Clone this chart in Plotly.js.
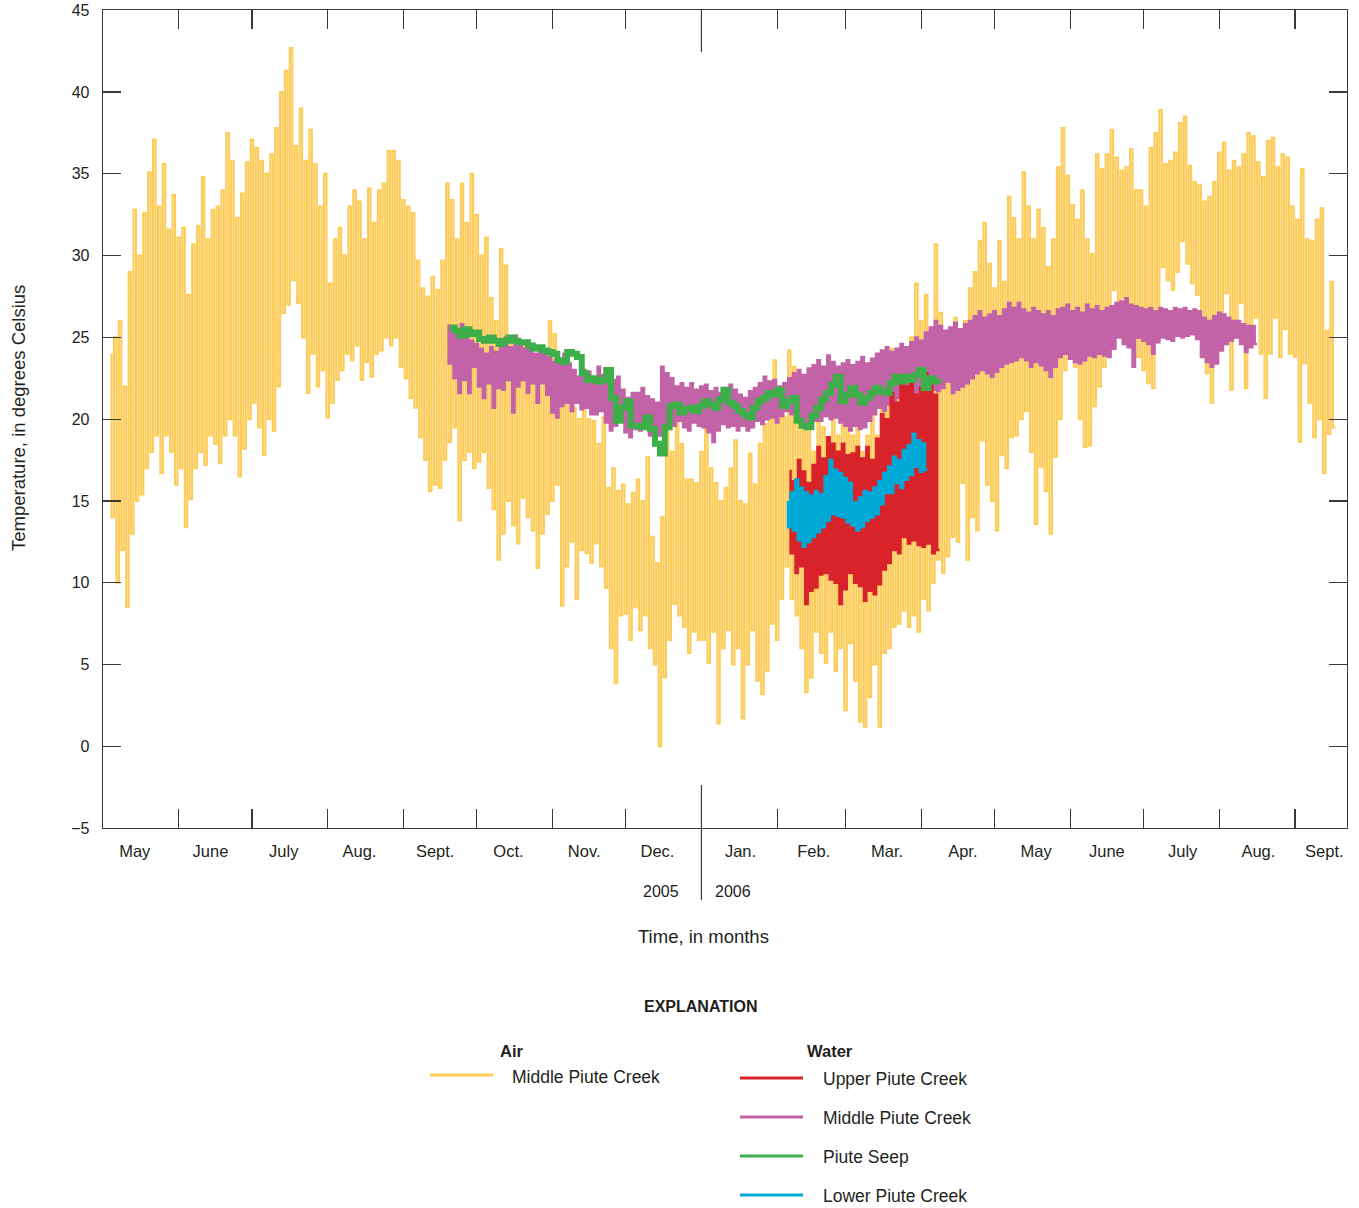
<!DOCTYPE html>
<html>
<head>
<meta charset="utf-8">
<script src="https://cdn.plot.ly/plotly-3.0.1.min.js"></script>
<style>
html,body{margin:0;padding:0;background:#fff;}
#chart{width:1359px;height:1208px;}
</style>
</head>
<body>
<div id="chart"></div>
<script>
// ---------------- DATA ----------------
// Series are sampled in 2-day periods: each period has a high and a low.
// Start days are counted from 2005-05-01.
const seriesStartDate = '2005-05-01';

// Air temperature, Middle Piute Creek (starts 2005-05-04)
const airStartDay = 3;
const airHigh = [
 24,25,26,22,29,32.8,30,32.6,35.1,37.1,
 33,35.6,31.6,33.7,31.1,31.7,27.6,30.7,31.8,34.8,
 31,32.8,33,34,37.5,35.8,32.3,33.8,35.7,37.1,
 36.6,35.8,35,36.2,37.8,40,41.3,42.7,36.7,39,
 35.8,37.7,35.6,33,35,28.3,31,31.7,30,33,
 34,33.3,31,34.1,32,34,34.4,36.4,36.4,35.8,
 33.4,33,32.6,29.7,28,27.5,28.7,27.9,29.7,34.4,
 33.4,31,34.4,32,35,32.5,30,31.1,27.4,26,
 30.4,29.4,24.6,24,23,24.5,22.5,23.5,22,23,
 26,25.2,22,22,21,20.7,20,21,20,19.9,
 18.5,20.1,15.8,17,15.6,16,14.8,15.5,16.3,15,
 17.7,12.8,11.2,14,19.7,18,19.9,18.5,16.3,16.3,
 16.1,18,19.9,17,16.1,15,15.8,17,18.7,15,
 14.8,17.9,16,18.5,19.7,21,23.6,21,20.1,24.2,
 23.2,20,19.5,19.5,18,20.7,19.5,18.5,20.7,19,
 20,21.1,19,19.9,18,19,20.3,19,20.7,21.5,
 24.3,22,22.4,24,25,28.3,26,27.6,25,30.7,
 26.5,25,24,26.2,25,26,28,29,30.9,32,
 29.5,28,30.9,28.4,33.6,32.3,31,35.1,33,31,
 32.8,31.7,29.3,31,35.4,37.8,34.9,33.1,32.2,34,
 31,30.1,36.2,35.3,36.2,37.7,36,35.2,35.4,36.5,
 34,34,33,36.6,37.5,38.9,35.6,35.8,36.3,38.1,
 38.5,35.5,34.5,34.3,33.3,33.6,34.5,36.3,36.9,35.2,
 35.8,35.4,36.2,37.5,37.3,35.7,34.8,37,37.2,35.4,
 36.2,36,33,32.2,35.3,31,30.9,32.2,32.9,25.4,28.4
];
const airLow = [
 14,10,12,8.5,13,15,15.4,17,18,19,
 16.7,19,18,16,17,13.4,15.1,17,18,17.2,
 19,18.5,17.3,19,20,19,16.5,18.2,20,21,
 19.5,17.8,20,19.3,22,26.5,27,28.5,27.1,25,
 21.6,24,22,23,20.1,21,22.4,23,24,23.6,
 24.5,22.4,23.5,22.6,24,24.2,25,24.5,25,23.2,
 22.5,21.3,20.7,18.9,17.5,15.6,16,15.8,17.5,18.6,
 19.5,13.8,17.5,18,17,17.4,18,15.8,14.5,11.4,
 13,15,13.5,12.4,15.2,14,13.2,10.9,13,14.2,
 15,16,8.6,11,12.5,9,12,11.8,11.2,12.4,
 11,9.7,6,3.85,8,8.1,6.5,8.5,7.1,8,
 6,5,0,4.2,6.5,8.7,8,7.3,5.7,7,
 6.5,6.5,5.1,7,1.4,6,7.1,5,6,1.7,
 5,7.1,4,3.2,4.6,7.5,6.5,9,11,9,
 8,6,3.3,4.2,7,5.7,5.1,7,4.6,6,
 2.2,6.3,4,1.5,1.2,3,5,1.2,5.7,6,
 7.3,7.5,8.3,7.3,8,7,9,8.3,10,11.4,
 10.6,11.6,12.8,12.5,16.1,11.4,14,13.2,18.7,16,
 15,13.2,17.8,17,18.9,19,20,20.5,18,13.6,
 17.1,15.6,13,17.7,20,23,24.4,23.2,20,18.3,
 18.4,20.8,22,23.2,25,27.9,27,27.4,27.1,25,
 23.8,23,22.2,21.9,26,29.3,28.5,27.9,29,30.9,
 29.5,28.3,27.6,25,22.8,21,24,25.8,27.7,21.8,
 25,27.1,21.9,25,26.2,24,21.3,24,26.2,23.8,
 25.5,24,23.8,18.6,23.4,21,18.9,20,16.7,19.1,19.5
];

// Water temperature, Middle Piute Creek (starts 2005-09-19)
const midStartDay = 141;
const midHigh = [
 25.8,25.5,25.2,25.8,25,24.8,24.6,24.3,24,24.4,
 24.1,24.6,25,24.4,25.1,24.7,24.3,24.6,24,24.4,
 24.2,23.8,23.5,23.6,24,23.4,23,22.6,23,22.9,
 22.5,23.2,22.7,22.4,22.4,22.6,21.8,21.3,21.6,21.6,
 21.9,21.4,21.2,21,23.2,22.8,22.5,22,22.2,21.9,
 22.2,21.8,22,22.1,21.7,21.9,21.6,21.9,22.1,21.8,
 21.5,21.3,21.7,21.9,22.2,22.6,22.3,22.4,22,22.2,
 22.5,22.8,23,22.7,23.1,23.3,23.6,23.2,23.9,23.5,
 23.2,23.4,23.6,23.3,23.5,23.8,23.4,23.7,24,24.2,
 24.4,24.1,24.3,24.6,24.4,24.7,25,24.8,25.3,25.6,
 26,25.7,25.4,25.6,25.9,25.5,25.8,26,26.3,26.6,
 26.2,26.4,26.6,26.3,26.7,27.1,26.8,27.1,26.7,26.5,
 26.8,26.6,26.4,26.6,26.3,26.7,26.8,27,26.6,26.8,
 26.5,27,26.7,26.9,26.6,26.8,26.9,27.1,27.2,27.4,
 27,26.9,26.8,26.7,26.8,26.6,26.8,26.7,26.6,26.8,
 26.7,26.8,26.6,26.7,26.6,26.2,26,26.3,26.5,26.4,
 26.2,26,26,25.8,25.7,25.7
];
const midLow = [
 23.4,22.5,21.6,22.4,21.6,23.2,22,21.3,22.2,20.7,
 21.9,21.8,22.4,20.4,22,22.4,21.6,22.2,21,22.2,
 21.5,20.4,20.1,20.8,21,20.5,21,20.6,20.7,20.3,
 20.3,20.5,19.8,19.3,19.6,19.9,19.2,18.9,19.4,19.3,
 19.5,19,18.7,19,19.3,19.8,19.6,19.9,19.5,19.3,
 19.8,19.6,19.5,19.2,18.6,19.3,19.7,19.5,19.6,19.3,
 19.6,19.3,19.5,19.9,19.7,20,20.1,19.8,20.2,20.5,
 20.3,20,20.1,19.8,20.2,19.9,19.9,20.2,20,20.1,
 19.8,19.6,19.3,19.6,19.4,19.5,19.9,20.3,20.7,20.5,
 20.9,21,21.3,21.1,21.4,21.6,21.3,21.5,21.6,21.8,
 21.7,21.9,22.3,21.6,21.8,22,22.2,22.5,22.8,23,
 22.8,22.6,22.9,23.2,23.4,23.5,23.6,23.8,23.6,23.2,
 23.5,23.3,23,22.6,23.2,23.8,24,23.7,23.5,23.4,
 23.6,23.9,23.8,24,23.9,23.8,24.3,25,24.6,24.4,
 23.2,25,24.8,24.6,24,24.7,25,24.9,24.8,25.1,
 25,25.1,25.2,24.9,23.8,23.5,23.2,23.4,24.2,24.6,
 24.8,25,24.6,24.1,24.4,24.6
];

// Water temperature, Piute Seep (starts 2005-09-19), one value per 2 days
const seepStartDay = 141;
const seepTemp = [
 25.6,25.4,25.1,25.5,25.2,25.3,24.9,24.8,25,24.8,
 24.6,24.8,25,24.8,24.7,24.7,24.5,24.3,24.4,24.2,
 24.1,24,23.6,23.5,24.1,24,23.8,22.8,22.4,22.5,
 22.3,22.4,23,21.3,19.9,20.7,21.1,19.6,19.6,19.5,
 20.1,19.4,18.5,17.9,19.5,20.8,20.9,20.4,20.6,20.7,
 20.5,20.8,21.1,20.9,20.7,21.2,21.8,21,20.8,20.5,
 20.3,20.1,20.7,21.1,21.3,21.6,21.5,21.8,20.8,21.1,
 21.3,19.9,19.6,19.5,20.2,20.7,21.2,21.6,22.1,22.6,
 21.1,21.5,21.9,21.5,21,21.3,21.6,21.9,21.7,21.6,
 22.2,22.6,22.3,22.6,22.4,22.7,23,21.9,22.5,22.3,
 22.2
];

// Water temperature, Upper Piute Creek (starts 2006-02-06)
const upperStartDay = 281;
const upperHigh = [
 16.9,16.2,17.5,16.8,16.1,17.2,18.3,17.6,18.9,18.5,
 18,18.5,17.8,17.9,18.3,17.6,18.3,17.5,18.8,20.3,
 20,21.6,21,22.4,22,22.4,21.5,21.9,22.8,22.2,21.5
];
const upperLow = [
 11.8,10.6,11,8.7,9.5,9.7,10.5,10.6,10.2,10,
 8.7,9.6,10.6,10,9.8,8.9,9.5,9.3,9.9,10.8,
 11.2,12,11.8,12.8,12.4,12.6,12.3,12.2,12.4,11.8,12
];

// Water temperature, Lower Piute Creek (starts 2006-02-05)
const lowerStartDay = 280;
const lowerHigh = [
 15,15.5,16.3,15.8,15.5,15.3,15.6,15.4,16.5,17.5,
 16.9,16.7,16.4,16.1,14.9,15.2,15.6,15.5,15.8,16.2,
 16.7,17.1,17.7,17.5,18.1,18.4,19.1,18.7,18.5
];
const lowerLow = [
 13.4,13.2,12.6,12.2,12.5,12.8,13.1,13.4,13.8,14.2,
 14.1,14,13.7,13.5,13.2,13.4,13.8,14,14.2,14.8,
 15.5,15.5,16.1,15.8,16.3,16.6,17.1,16.8,16.9
];

// Axis / label texts
const monthStarts = ['2005-06-01','2005-07-01','2005-08-01','2005-09-01','2005-10-01','2005-11-01','2005-12-01',
 '2006-01-01','2006-02-01','2006-03-01','2006-04-01','2006-05-01','2006-06-01','2006-07-01','2006-08-01','2006-09-01'];
const monthLabelDates = ['2005-05-14','2005-06-14','2005-07-14','2005-08-14','2005-09-14','2005-10-14','2005-11-14','2005-12-14',
 '2006-01-17','2006-02-16','2006-03-18','2006-04-18','2006-05-18','2006-06-16','2006-07-17','2006-08-17','2006-09-13'];
const monthLabels = ['May','June','July','Aug.','Sept.','Oct.','Nov.','Dec.','Jan.','Feb.','Mar.','Apr.','May','June','July','Aug.','Sept.'];
const yTicks = [-5,0,5,10,15,20,25,30,35,40,45];
const yearLabels = ['2005','2006'];
const legendAir = ['Middle Piute Creek'];
const legendWater = ['Upper Piute Creek','Middle Piute Creek','Piute Seep','Lower Piute Creek'];

// ---------------- STYLE ----------------
const FONT = '"Liberation Sans",Arial,sans-serif';
const TXT = '#231f20';
const AXC = '#3a3a3a';
const C_AIR = '#FDCB57', C_MID = '#C262A7', C_UP = '#D8232A', C_LOW = '#00A8D6', C_SEEP = '#3DAE49';

const DAY = 864e5;
const T0 = Date.parse(seriesStartDate + 'T00:00:00Z');

function zig(startDay, hi, lo) {
  const x = [], y = [];
  for (let i = 0; i < hi.length; i++) {
    x.push(T0 + (startDay + 2 * i + 0.5) * DAY); y.push(hi[i]);
    x.push(T0 + (startDay + 2 * i + 1.5) * DAY); y.push(lo[i]);
  }
  return {x, y};
}
function line(startDay, vals) {
  return {x: vals.map((v, i) => T0 + (startDay + 2 * i + 1) * DAY), y: vals};
}

const air = zig(airStartDay, airHigh, airLow);
const mid = zig(midStartDay, midHigh, midLow);
const upper = zig(upperStartDay, upperHigh, upperLow);
const lower = zig(lowerStartDay, lowerHigh, lowerLow);
const seep = line(seepStartDay, seepTemp);

const common = {type: 'scatter', mode: 'lines', hoverinfo: 'skip', showlegend: false};
const data = [
  Object.assign({}, common, {x: air.x, y: air.y, line: {color: C_AIR, width: 2.1, shape: 'vh'}}),
  Object.assign({}, common, {x: mid.x, y: mid.y, line: {color: C_MID, width: 2.5, shape: 'vh'}}),
  Object.assign({}, common, {x: upper.x, y: upper.y, line: {color: C_UP, width: 2.5, shape: 'vh'}}),
  Object.assign({}, common, {x: lower.x, y: lower.y, line: {color: C_LOW, width: 2.8, shape: 'vh'}}),
  Object.assign({}, common, {x: seep.x, y: seep.y, line: {color: C_SEEP, width: 6, shape: 'hv'}}),
  Object.assign({}, common, {x: [monthLabelDates[0]], y: [null], xaxis: 'x2', yaxis: 'y'})
];

// plot area in pixels
const L = 103, R = 1347, TOP = 10, BOT = 828;
const px = X => (X - L) / (R - L);
const py = Y => (BOT - Y) / (BOT - TOP);

const xRange = ['2005-05-01', '2006-09-22 07:00'];

const annotations = [];
function ann(text, X, Y, size, opts) {
  annotations.push(Object.assign({text, x: px(X), y: py(Y), xref: 'paper', yref: 'paper',
    showarrow: false, xanchor: 'center', yanchor: 'middle', borderpad: 0,
    font: {family: FONT, size: size, color: TXT}}, opts || {}));
}
ann(yearLabels[0], 661, 892, 16);
ann(yearLabels[1], 733, 892, 16);
ann('Time, in months', 703, 936, 18.5);
ann('Temperature, in degrees Celsius', 18, 418, 18.5, {textangle: -90});
ann('<b>EXPLANATION</b>', 700, 1006, 16);
ann('<b>Air</b>', 499, 1051, 16.5, {xanchor: 'left'});
ann('<b>Water</b>', 806, 1051, 16.5, {xanchor: 'left'});
ann(legendAir[0], 511, 1077, 17.5, {xanchor: 'left'});
const waterCols = [C_UP, C_MID, C_SEEP, C_LOW];
const waterY = [1078, 1117, 1156, 1195];
legendWater.forEach((t, i) => ann(t, 822, waterY[i] + 1, 17.5, {xanchor: 'left'}));

const shapes = [];
function seg(x0, y0, x1, y1, color, width) {
  shapes.push({type: 'line', xref: 'paper', yref: 'paper', x0: px(x0), y0: py(y0), x1: px(x1), y1: py(y1),
    line: {color, width}});
}
seg(430, 1075, 493, 1075, C_AIR, 3);
waterY.forEach((Y, i) => seg(740, Y, 803, Y, waterCols[i], 3));
// 2005 / 2006 separator
shapes.push({type: 'line', xref: 'x', yref: 'paper', x0: '2006-01-01', x1: '2006-01-01', y0: py(TOP), y1: py(52), line: {color: AXC, width: 1.2}});
shapes.push({type: 'line', xref: 'x', yref: 'paper', x0: '2006-01-01', x1: '2006-01-01', y0: py(785), y1: py(900), line: {color: AXC, width: 1.2}});

const layout = {
  width: 1359, height: 1208,
  margin: {l: L, r: 1359 - R, t: TOP, b: 1208 - BOT, pad: 0},
  paper_bgcolor: '#fff', plot_bgcolor: '#fff',
  showlegend: false,
  font: {family: FONT, size: 16, color: TXT},
  xaxis: {type: 'date', range: xRange, tickmode: 'array', tickvals: monthStarts,
    ticks: 'inside', ticklen: 19, tickwidth: 1.2, tickcolor: AXC, showticklabels: false,
    showline: true, linecolor: AXC, linewidth: 1.3, mirror: 'ticks', showgrid: false, zeroline: false, fixedrange: true},
  xaxis2: {type: 'date', overlaying: 'x', anchor: 'y', side: 'bottom', range: xRange, tickmode: 'array',
    tickvals: monthLabelDates, ticktext: monthLabels, ticks: '', showline: false, showgrid: false, zeroline: false,
    tickfont: {family: FONT, size: 16.5, color: TXT}, ticklabelstandoff: 11},
  yaxis: {range: [-5, 45.02], tickmode: 'array', tickvals: yTicks, ticks: 'inside', ticklen: 18, tickwidth: 1.2, tickcolor: AXC,
    showline: true, linecolor: AXC, linewidth: 1.3, mirror: 'ticks', showgrid: false, zeroline: false,
    tickfont: {family: FONT, size: 16, color: TXT}, ticklabelstandoff: 9},
  annotations, shapes
};

Plotly.newPlot('chart', data, layout, {staticPlot: true, displayModeBar: false});
</script>
</body>
</html>
